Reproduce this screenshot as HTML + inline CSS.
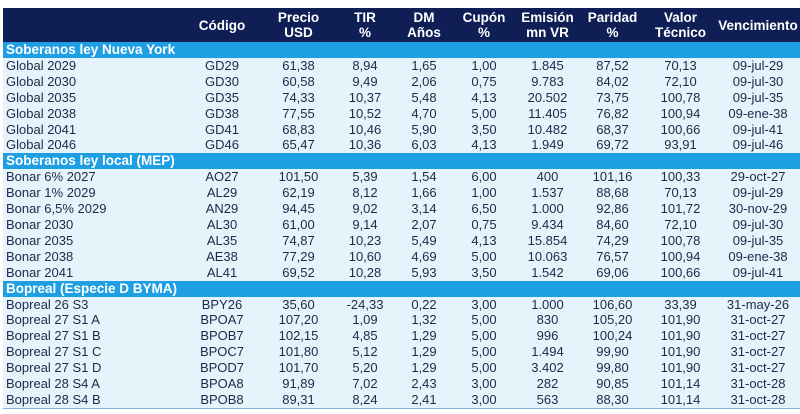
<!DOCTYPE html>
<html><head><meta charset="utf-8"><style>
body{margin:0;width:800px;height:414px;background:#fff;overflow:hidden;font-family:"Liberation Sans",sans-serif}
table{position:absolute;left:3px;top:8px;border-collapse:collapse;table-layout:fixed;width:797px;background:#e6f3fb}
td,th{padding:0;text-align:center;font-size:13px;color:#1a2a4a;white-space:nowrap;overflow:hidden;height:15.9px;line-height:15.9px}
thead th{background:#0f1f55;color:#fff;font-weight:bold;height:34px;line-height:15px;font-size:13.5px}
td.n{text-align:left;padding-left:3px}
tr.sec td{background:#1f9fe3;color:#fff;font-weight:bold;text-align:left;padding-left:3px;font-size:13.5px}
tbody tr:last-child td{border-bottom:1px solid #7fb5de}
</style></head><body>
<table>
<colgroup><col style="width:179px"><col style="width:80px"><col style="width:73px"><col style="width:60px"><col style="width:58px"><col style="width:62px"><col style="width:65px"><col style="width:65px"><col style="width:71px"><col style="width:84px"></colgroup>
<thead><tr><th></th><th>Código</th><th>Precio<br>USD</th><th>TIR<br>%</th><th>DM<br>Años</th><th>Cupón<br>%</th><th>Emisión<br>mn VR</th><th>Paridad<br>%</th><th>Valor<br>Técnico</th><th>Vencimiento</th></tr></thead>
<tbody id="tb"></tbody></table>
<script>
const sections=[
["Soberanos ley Nueva York",[
["Global 2029","GD29","61,38","8,94","1,65","1,00","1.845","87,52","70,13","09-jul-29"],
["Global 2030","GD30","60,58","9,49","2,06","0,75","9.783","84,02","72,10","09-jul-30"],
["Global 2035","GD35","74,33","10,37","5,48","4,13","20.502","73,75","100,78","09-jul-35"],
["Global 2038","GD38","77,55","10,52","4,70","5,00","11.405","76,82","100,94","09-ene-38"],
["Global 2041","GD41","68,83","10,46","5,90","3,50","10.482","68,37","100,66","09-jul-41"],
["Global 2046","GD46","65,47","10,36","6,03","4,13","1.949","69,72","93,91","09-jul-46"]]],
["Soberanos ley local (MEP)",[
["Bonar 6% 2027","AO27","101,50","5,39","1,54","6,00","400","101,16","100,33","29-oct-27"],
["Bonar 1% 2029","AL29","62,19","8,12","1,66","1,00","1.537","88,68","70,13","09-jul-29"],
["Bonar 6,5% 2029","AN29","94,45","9,02","3,14","6,50","1.000","92,86","101,72","30-nov-29"],
["Bonar 2030","AL30","61,00","9,14","2,07","0,75","9.434","84,60","72,10","09-jul-30"],
["Bonar 2035","AL35","74,87","10,23","5,49","4,13","15.854","74,29","100,78","09-jul-35"],
["Bonar 2038","AE38","77,29","10,60","4,69","5,00","10.063","76,57","100,94","09-ene-38"],
["Bonar 2041","AL41","69,52","10,28","5,93","3,50","1.542","69,06","100,66","09-jul-41"]]],
["Bopreal (Especie D BYMA)",[
["Bopreal 26 S3","BPY26","35,60","-24,33","0,22","3,00","1.000","106,60","33,39","31-may-26"],
["Bopreal 27 S1 A","BPOA7","107,20","1,09","1,32","5,00","830","105,20","101,90","31-oct-27"],
["Bopreal 27 S1 B","BPOB7","102,15","4,85","1,29","5,00","996","100,24","101,90","31-oct-27"],
["Bopreal 27 S1 C","BPOC7","101,80","5,12","1,29","5,00","1.494","99,90","101,90","31-oct-27"],
["Bopreal 27 S1 D","BPOD7","101,70","5,20","1,29","5,00","3.402","99,80","101,90","31-oct-27"],
["Bopreal 28 S4 A","BPOA8","91,89","7,02","2,43","3,00","282","90,85","101,14","31-oct-28"],
["Bopreal 28 S4 B","BPOB8","89,31","8,24","2,41","3,00","563","88,30","101,14","31-oct-28"]]]];
const tb=document.getElementById('tb');
sections.forEach(s=>{
 const tr=document.createElement('tr');tr.className='sec';
 
 
 const td=document.createElement('td');td.colSpan=10;td.textContent=s[0];tr.appendChild(td);tb.appendChild(tr);
 s[1].forEach(r=>{
  const row=document.createElement('tr');
  
  
  r.forEach((v,i)=>{const c=document.createElement('td');if(i===0)c.className='n';c.textContent=v;row.appendChild(c);});
  tb.appendChild(row);
 });
});
</script>
</body></html>
